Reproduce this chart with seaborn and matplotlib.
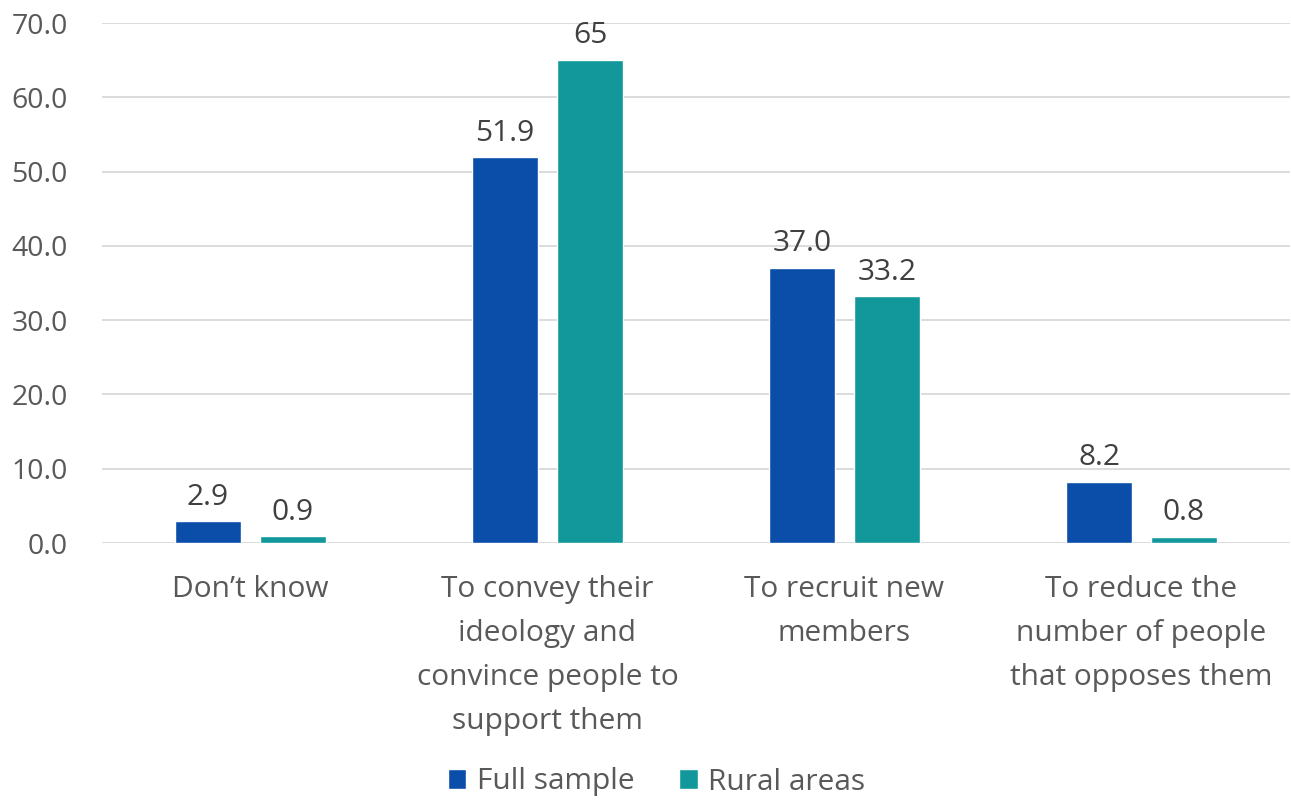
import matplotlib
matplotlib.use("Agg")
import matplotlib.pyplot as plt
import seaborn as sns
import pandas as pd

categories = ["Don’t know",
              "To convey their\nideology and\nconvince people to\nsupport them",
              "To recruit new\nmembers",
              "To reduce the\nnumber of people\nthat opposes them"]
full_sample = [2.9, 51.9, 37.0, 8.2]
rural_areas = [0.9, 65.0, 33.2, 0.8]
full_labels = ["2.9", "51.9", "37.0", "8.2"]
rural_labels = ["0.9", "65", "33.2", "0.8"]
series_names = ["Full sample", "Rural areas"]
colors = ["#0B4EA9", "#12989A"]
yticks = [0, 10, 20, 30, 40, 50, 60, 70]

df = pd.DataFrame({
    "category": categories * 2,
    "value": full_sample + rural_areas,
    "series": [series_names[0]] * 4 + [series_names[1]] * 4,
})

sns.set_theme(style="white")
plt.rcParams["font.family"] = ["Open Sans", "DejaVu Sans"]
text_color = "#595959"

fig = plt.figure(figsize=(12.91, 8.02), dpi=100)
ax = fig.add_axes([102 / 1291, 1 - 543 / 802, 1188 / 1291, 520 / 802])

sns.barplot(data=df, x="category", y="value", hue="series", order=categories,
            hue_order=series_names, palette=colors, width=0.572, gap=0.224,
            saturation=1, ax=ax, legend=True)

for cont, labs in zip(ax.containers, [full_labels, rural_labels]):
    ax.bar_label(cont, labels=labs, padding=7, fontsize=21.5, color="#404040")

ax.set_ylim(0, 70)
ax.set_xlim(-0.5, 3.5)
ax.set_yticks(yticks)
ax.set_yticklabels([f"{v:.1f}" for v in yticks], fontsize=20.5, color=text_color)
ax.tick_params(axis="x", labelsize=21.5, colors=text_color, pad=23, length=0)
ax.tick_params(axis="y", length=0, pad=24.5)
for lab in ax.get_xticklabels():
    lab.set_linespacing(1.68)
ax.set_xlabel("")
ax.set_ylabel("")
ax.yaxis.grid(True, color="#D9D9D9", linewidth=1.3)
ax.set_axisbelow(True)
for s in ax.spines.values():
    s.set_visible(False)

handles, labels = ax.get_legend_handles_labels()
ax.get_legend().remove()
fig.legend(handles, labels, loc="center", bbox_to_anchor=(0.5085, 1 - 782 / 802),
           ncol=2, frameon=False, fontsize=21.5, handlelength=0.62, handleheight=0.62,
           handletextpad=0.35, columnspacing=1.5, labelcolor=text_color)

fig.savefig("out.png", dpi=100)
